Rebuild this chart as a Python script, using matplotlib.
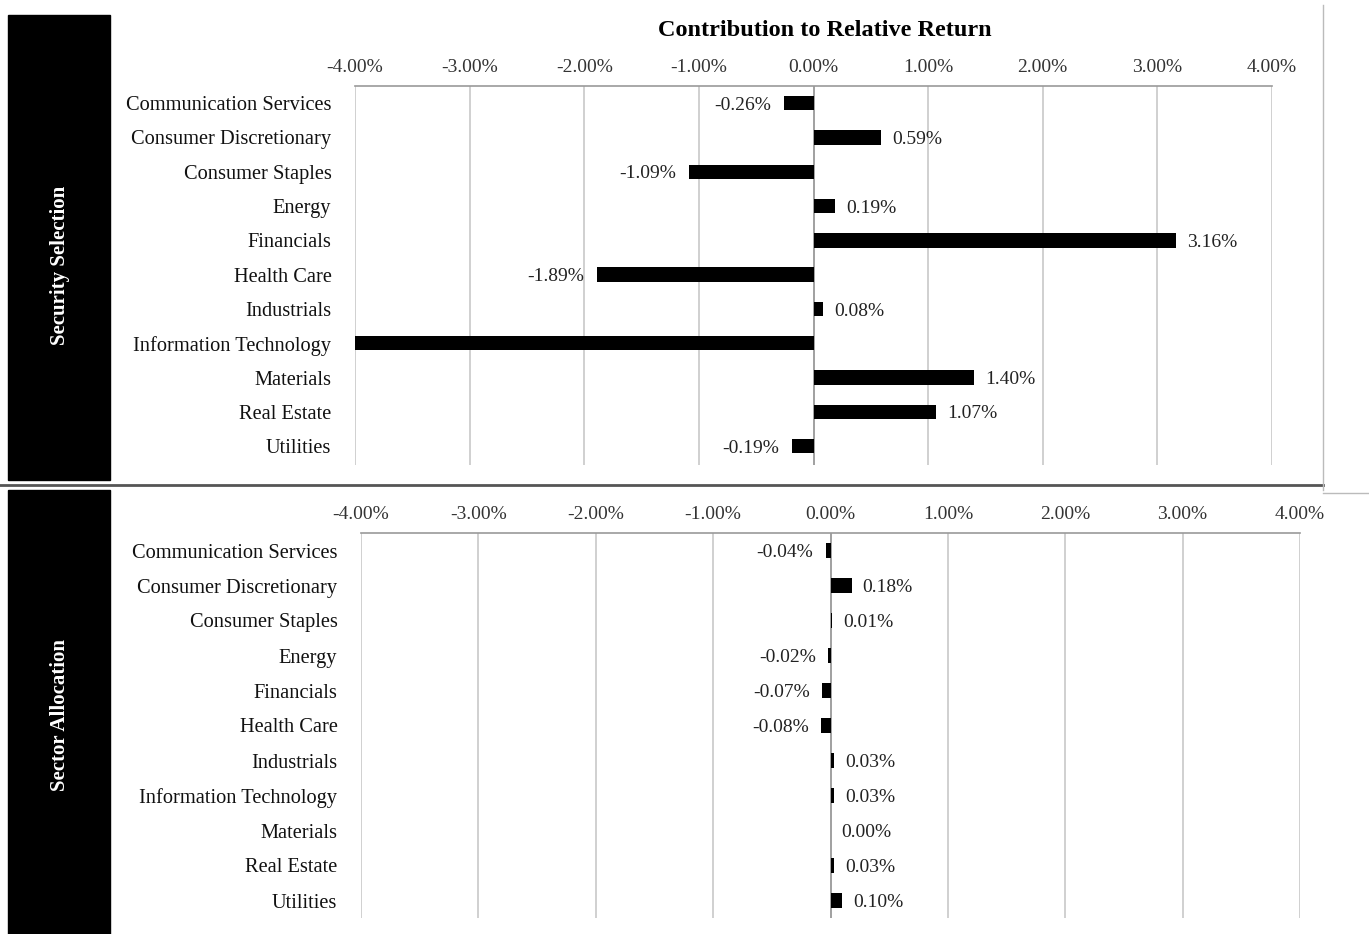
import matplotlib.pyplot as plt
import numpy as np
from matplotlib.patches import Rectangle
from matplotlib.lines import Line2D

sectors = ["Communication Services", "Consumer Discretionary", "Consumer Staples",
           "Energy", "Financials", "Health Care", "Industrials",
           "Information Technology", "Materials", "Real Estate", "Utilities"]

# contribution to relative return, in %
selection = [-0.26, 0.59, -1.09, 0.19, 3.16, -1.89, 0.08, -4.50, 1.40, 1.07, -0.19]
allocation = [-0.04, 0.18, 0.01, -0.02, -0.07, -0.08, 0.03, 0.03, 0.00, 0.03, 0.10]

ticks = [-4, -3, -2, -1, 0, 1, 2, 3, 4]

plt.rcParams['font.family'] = ['Liberation Serif', 'DejaVu Serif']

W, H = 1369, 934
fig = plt.figure(figsize=(W / 100, H / 100), dpi=100)


def fx(px):
    return px / W


def fy(py):
    return 1 - py / H


def panel(rect, values, ylow):
    ax = fig.add_axes(rect)
    y = np.arange(len(sectors))
    ax.barh(y, values, height=0.42, color="black", zorder=3)
    ax.set_xlim(-4, 4)
    ax.set_ylim(ylow, -0.5)
    ax.set_yticks(y)
    ax.set_yticklabels(sectors, fontsize=14.7, color="#111111")
    ax.tick_params(axis="y", length=0, pad=17)
    ax.xaxis.tick_top()
    ax.set_xticks(ticks)
    ax.set_xticklabels(["%.2f%%" % t for t in ticks], fontsize=14)
    ax.tick_params(axis="x", length=0, pad=7, colors="#333333")
    ax.grid(axis="x", color="#c8c8c8", linewidth=1.2, zorder=0)
    for s in ["left", "right", "bottom"]:
        ax.spines[s].set_visible(False)
    ax.spines["top"].set_color("#999999")
    ax.spines["top"].set_linewidth(1.2)
    ax.axvline(0, color="#999999", linewidth=1.2, zorder=2)
    for i, v in enumerate(values):
        if v < -4 or v > 4:
            continue
        if v < 0:
            ax.annotate("%.2f%%" % v, (v, i), xytext=(-9, -1.5), textcoords="offset points",
                        ha="right", va="center", fontsize=14, color="#222222")
        else:
            ax.annotate("%.2f%%" % v, (v, i), xytext=(8, -1.5), textcoords="offset points",
                        ha="left", va="center", fontsize=14, color="#222222")
    return ax


top = panel([fx(355), fy(465), fx(1272) - fx(355), fy(86) - fy(465)], selection, 10.55)
bot = panel([fx(361), fy(918), fx(1300) - fx(361), fy(533) - fy(918)], allocation, 10.5)

fig.text(fx(825), fy(30), "Contribution to Relative Return", ha="center", va="center",
         fontsize=17.5, fontweight="bold")

# black side bars with rotated panel titles
fig.patches.append(Rectangle((fx(8), fy(480)), fx(110) - fx(8), fy(15) - fy(480),
                             transform=fig.transFigure, color="black", zorder=0))
fig.patches.append(Rectangle((fx(8), fy(934)), fx(110) - fx(8), fy(490) - fy(934),
                             transform=fig.transFigure, color="black", zorder=0))
fig.text(fx(60), fy(265), "Security Selection", rotation=90, ha="center", va="center",
         color="white", fontsize=15, fontweight="bold")
fig.text(fx(60), fy(715), "Sector Allocation", rotation=90, ha="center", va="center",
         color="white", fontsize=15, fontweight="bold")

# frame lines
fig.lines.append(Line2D([fx(0), fx(1323)], [fy(485), fy(485)], transform=fig.transFigure,
                        color="#555555", linewidth=2))
fig.lines.append(Line2D([fx(1323), fx(1369)], [fy(493), fy(493)], transform=fig.transFigure,
                        color="#bbbbbb", linewidth=1))
fig.lines.append(Line2D([fx(1323), fx(1323)], [fy(5), fy(490)], transform=fig.transFigure,
                        color="#bbbbbb", linewidth=1))

fig.savefig("out.png", dpi=100)
